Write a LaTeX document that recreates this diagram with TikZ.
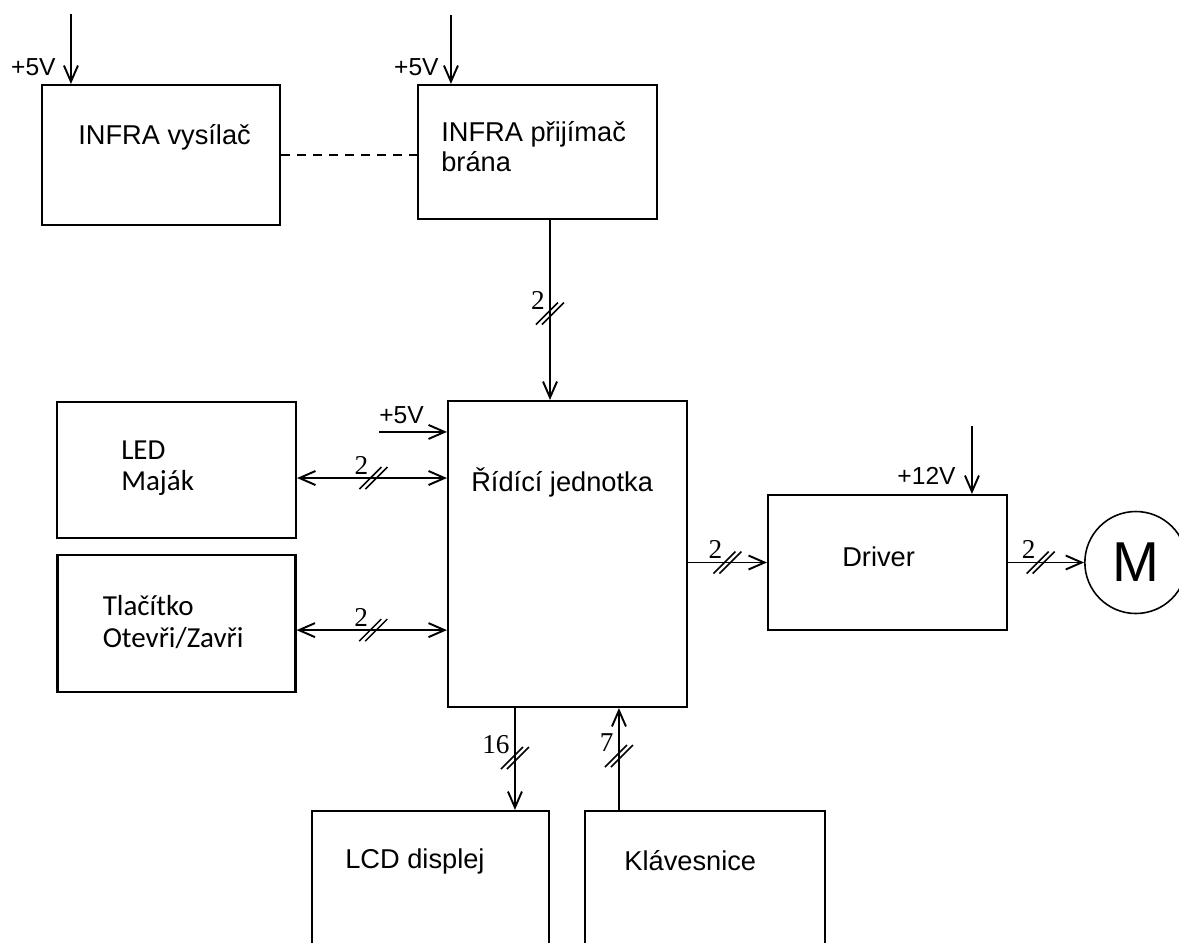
\documentclass[tikz,border=0pt]{standalone}
\usepackage{fontspec}
\setmainfont{Liberation Sans}
\newfontfamily\calib{Carlito}
\newfontfamily\busfont{Liberation Serif}
\usepackage{tikz}
\usetikzlibrary{arrows.meta,positioning,calc}
\tikzset{
  pics/bus/.style={code={
    \draw[line width=0.9pt] (-0.28,-0.22) -- (0.16,0.22) (-0.16,-0.22) -- (0.28,0.22);
    \node[anchor=base east,inner sep=0pt,font=\busfont\fontsize{15.5}{15.5}\selectfont] (-num) at (-0.10,0.08) {#1};
  }}
}
\begin{document}
\begin{tikzpicture}[
  every node/.style={font=\fontsize{15.5}{17.5}\selectfont},
  box/.style={draw,line width=1.2pt,inner sep=0pt},
  txt/.style={inner sep=0pt,align=left,anchor=base west},
  volt/.style={inner sep=0pt,font=\fontsize{14}{14}\selectfont},
  wire/.style={-{Straight Barb[length=3.2mm,width=2.8mm]},line width=1.1pt},
  biwire/.style={{Straight Barb[length=3.2mm,width=2.8mm]}-{Straight Barb[length=3.2mm,width=2.8mm]},line width=1.1pt},
  ir/.style={line width=1.1pt,dash pattern=on 1.8mm off 1.4mm}
]
\useasboundingbox (0,0) rectangle (23.58,-18.84);
\clip (0,0) rectangle (23.58,-18.84);
\fill[white] (0,0) rectangle (23.58,-18.84);

\node[box,minimum width=4.76cm,minimum height=2.80cm] (tx) at (3.22,-3.10) {};
\node[box,minimum width=4.78cm,minimum height=2.68cm] (rx) at (10.75,-3.04) {};
\node[box,minimum width=4.78cm,minimum height=6.12cm] (mcu) at (11.35,-11.08) {};
\node[box,minimum width=4.78cm,minimum height=2.72cm] (led) at (3.53,-9.40) {};
\node[box,minimum width=4.76cm,minimum height=2.74cm,below=0.3cm of led] (btn) {};
\node[box,minimum width=4.78cm,minimum height=2.70cm] (drv) at (17.75,-11.25) {};
\node[draw,circle,line width=0.9pt,minimum size=2.04cm,inner sep=0pt,font=\fontsize{32}{32}\selectfont,right=1.52cm of drv] (m) {M};
\node[box,minimum width=4.74cm,minimum height=2.80cm] (lcd) at (8.61,-17.62) {};
\node[box,minimum width=4.80cm,minimum height=2.80cm,right=0.68cm of lcd] (kbd) {};

\node[txt] (tx-t) at ($(tx.north west)+(0.74,-1.22)$) {INFRA vysílač};
\node[txt] (rx-t) at ($(rx.north west)+(0.48,-1.76)$) {INFRA přijímač\\brána};
\node[txt] (mcu-t) at ($(mcu.north west)+(0.48,-1.84)$) {Řídící jednotka};
\node[txt,font=\calib\fontsize{16.5}{17.8}\selectfont] (led-t) at ($(led.north west)+(1.30,-1.80)$) {LED\\Maják};
\node[txt,font=\calib\fontsize{16.5}{18.2}\selectfont] (btn-t) at ($(btn.north west)+(0.92,-1.86)$) {Tlačítko\\Otevři/Zavři};
\node[txt] (drv-t) at ($(drv.north west)+(1.50,-1.46)$) {Driver};
\node[txt] (lcd-t) at ($(lcd.north west)+(0.68,-1.18)$) {LCD displej};
\node[txt] (kbd-t) at ($(kbd.north west)+(0.80,-1.22)$) {Klávesnice};

\coordinate (v1) at ($(tx.north west)+(0.60,1.40)$);
\coordinate (v2) at ($(rx.north west)+(0.68,1.38)$);
\coordinate (v3) at ($(mcu.north west)+(-1.36,-0.64)$);
\coordinate (v4) at ($(drv.north west)+(4.10,1.36)$);
\draw[wire] (v1) -- (v1 |- tx.north);
\draw[wire] (v2) -- (v2 |- rx.north);
\draw[wire] (v3) -- (v3 -| mcu.west);
\draw[wire] (v4) -- (v4 |- drv.north);
\node[volt,anchor=base east] (v1-t) at ($(tx.north west)+(0.30,0.16)$) {+5V};
\node[volt,anchor=base east] (v2-t) at ($(rx.north west)+(0.44,0.16)$) {+5V};
\node[volt,anchor=base west] (v3-t) at ($(v3)+(0,0.16)$) {+5V};
\node[volt,anchor=base east] (v4-t) at ($(drv.north west)+(3.78,0.18)$) {+12V};

\draw[ir] (tx.east) -- (tx.east -| rx.west);

\coordinate (a1) at ($(rx.south)+(0.25,0)$);
\coordinate (a2) at ($(led.east)+(0,-0.16)$);
\coordinate (a3) at ($(btn.east)+(0,-0.13)$);
\coordinate (a4) at ($(mcu.south west)+(1.36,0)$);
\coordinate (a5) at ($(mcu.south west)+(3.44,0)$);
\draw[wire] (a1) -- coordinate[pos=.52] (c1) (a1 |- mcu.north);
\draw[biwire] (a2) -- coordinate[pos=.51] (c2) (a2 -| mcu.west);
\draw[biwire] (a3) -- coordinate[pos=.51] (c3) (a3 -| mcu.west);
\draw[wire] (drv.west -| mcu.east) -- coordinate[pos=.5] (c4) (drv.west);
\draw[wire] (drv.east) -- coordinate[pos=.43] (c5) (m.west);
\draw[wire] (a4) -- coordinate[pos=.49] (c6) (a4 |- lcd.north);
\draw[wire] (a5 |- kbd.north) -- coordinate[pos=.53] (c7) (a5);

\pic (b1) at (c1) {bus=2};
\pic (b2) at (c2) {bus=2};
\pic (b3) at (c3) {bus=2};
\pic (b4) at (c4) {bus=2};
\pic (b5) at (c5) {bus=2};
\pic (b6) at (c6) {bus=16};
\pic (b7) at (c7) {bus=7};
\end{tikzpicture}
\end{document}
